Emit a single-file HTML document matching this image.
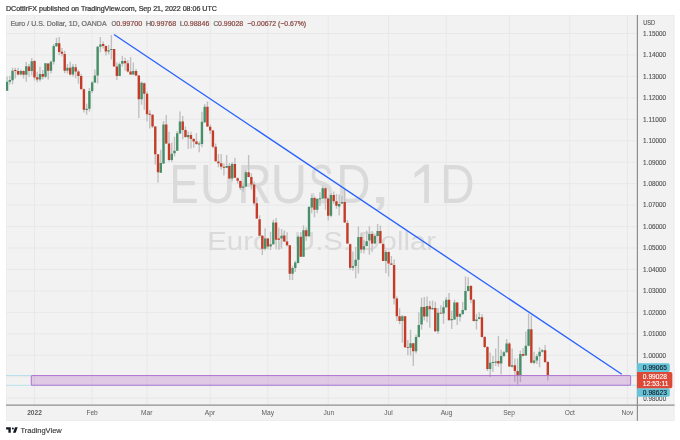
<!DOCTYPE html><html><head><meta charset="utf-8"><style>
html,body{margin:0;padding:0;background:#fff;width:680px;height:440px;overflow:hidden}
svg{display:block;will-change:transform}text{font-family:"Liberation Sans",sans-serif}
</style></head><body>
<svg width="680" height="440" viewBox="0 0 680 440">
<rect width="680" height="440" fill="#fff"/>
<text transform="translate(5.97 10.6) scale(1.0588 1)" font-size="6.7" font-weight="normal" fill="#3a3a3a" stroke="#3a3a3a" stroke-width="0.25">DCottlrFX published on TradingView.com, Sep 21, 2022 08:06 UTC</text>
<rect x="6" y="15" width="668.5" height="405.8" fill="#f2f2f2"/>
<rect x="6.4" y="15.4" width="667.7" height="405" fill="none" stroke="#ebebeb" stroke-width="0.8"/>
<defs><clipPath id="pane"><rect x="6" y="15" width="631.4" height="390"/></clipPath></defs>
<path d="M6 33.50H637M6 54.95H637M6 76.40H637M6 97.85H637M6 119.30H637M6 140.75H637M6 162.20H637M6 183.65H637M6 205.10H637M6 226.55H637M6 248.00H637M6 269.45H637M6 290.90H637M6 312.35H637M6 333.80H637M6 355.25H637M6 376.70H637M6 398.15H637M34.5 15V405M92.1 15V405M147.0 15V405M210.2 15V405M267.8 15V405M328.2 15V405M388.6 15V405M446.2 15V405M509.4 15V405M569.8 15V405M627.4 15V405" stroke="#e8e8e8" stroke-width="1" fill="none"/>
<g fill="#dadada"><text transform="translate(169.51 203.3) scale(0.797 1)" font-size="55">E</text><text transform="translate(199.70 203.3) scale(0.900 1)" font-size="55">U</text><text transform="translate(237.21 203.3) scale(0.873 1)" font-size="55">R</text><text transform="translate(270.50 203.3) scale(0.925 1)" font-size="55">U</text><text transform="translate(308.64 203.3) scale(0.681 1)" font-size="55">S</text><text transform="translate(336.25 203.3) scale(0.864 1)" font-size="55">D</text><text transform="translate(368.35 203.3) scale(1.550 1)" font-size="55">,</text><text transform="translate(440.11 203.3) scale(0.873 1)" font-size="55">D</text><path d="M428.9 164.4V202.9H424.2V171.2L414.5 177.8V173.0L424.8 164.4Z"/>
<text x="321.7" y="250" font-size="25.8" text-anchor="middle" textLength="229" lengthAdjust="spacingAndGlyphs">Euro / U.S. Dollar</text></g>
<text transform="translate(10.40 25.9) scale(1.0058 1)" font-size="7" font-weight="normal" fill="#6e6e6e" stroke="#6e6e6e" stroke-width="0.22">Euro / U.S. Dollar, 1D, OANDA</text>
<text transform="translate(111.58 25.9) scale(0.8800 1)" font-size="7" font-weight="normal" fill="#6e6e6e" stroke="#6e6e6e" stroke-width="0.22">O</text>
<text transform="translate(116.24 25.9) scale(1.0343 1)" font-size="7" font-weight="normal" fill="#8a4a45" stroke="#8a4a45" stroke-width="0.22">0.99700</text>
<text transform="translate(145.65 25.9) scale(1.1000 1)" font-size="7" font-weight="normal" fill="#6e6e6e" stroke="#6e6e6e" stroke-width="0.22">H</text>
<text transform="translate(150.65 25.9) scale(1.0061 1)" font-size="7" font-weight="normal" fill="#8a4a45" stroke="#8a4a45" stroke-width="0.22">0.99768</text>
<text transform="translate(179.65 25.9) scale(1.1077 1)" font-size="7" font-weight="normal" fill="#6e6e6e" stroke="#6e6e6e" stroke-width="0.22">L</text>
<text transform="translate(183.95 25.9) scale(1.0020 1)" font-size="7" font-weight="normal" fill="#8a4a45" stroke="#8a4a45" stroke-width="0.22">0.98846</text>
<text transform="translate(213.57 25.9) scale(0.9333 1)" font-size="7" font-weight="normal" fill="#6e6e6e" stroke="#6e6e6e" stroke-width="0.22">C</text>
<text transform="translate(218.05 25.9) scale(0.9939 1)" font-size="7" font-weight="normal" fill="#8a4a45" stroke="#8a4a45" stroke-width="0.22">0.99028</text>
<text transform="translate(247.35 25.9) scale(0.9809 1)" font-size="7" font-weight="normal" fill="#8a4a45" stroke="#8a4a45" stroke-width="0.22">−0.00672</text>
<text transform="translate(278.01 25.9) scale(0.9838 1)" font-size="7" font-weight="normal" fill="#8a4a45" stroke="#8a4a45" stroke-width="0.22">(−0.67%)</text>
<path d="M6 375.5H637M6 385.3H637" stroke="#b0dfea" stroke-width="0.9" fill="none"/>
<g clip-path="url(#pane)">
<path d="M7.05 76.4V90.7M9.79 76.0V84.6M12.54 67.8V84.2M15.29 67.8V78.5M18.03 67.7V75.6M20.77 69.5V75.2M23.52 70.3V78.5M26.27 62.1V81.7M29.01 64.1V76.8M31.75 58.0V75.6M34.50 60.0V80.5M37.24 71.8V82.3M39.99 66.8V81.4M42.73 70.0V79.5M45.48 63.0V78.2M48.23 63.2V79.5M50.97 60.5V73.6M53.72 43.9V64.5M56.46 37.8V47.0M59.20 37.1V55.2M61.95 48.0V56.5M64.69 50.7V73.2M67.44 64.1V73.6M70.19 61.8V75.5M72.93 64.1V76.4M75.68 64.0V78.2M78.42 70.0V83.8M81.16 74.0V89.3M83.91 88.4V112.5M86.66 103.8V114.8M89.40 88.0V111.4M92.15 81.1V92.9M94.89 69.5V83.0M97.64 46.0V83.4M100.38 36.9V52.3M103.12 41.4V48.6M105.87 45.5V55.5M108.62 45.0V54.5M111.36 34.9V59.6M114.11 48.9V66.5M116.85 62.4V80.0M119.59 62.4V76.0M122.34 56.0V66.5M125.09 57.8V70.5M127.83 60.0V72.4M130.57 56.9V75.1M133.32 62.4V75.0M136.06 69.0V76.0M138.81 75.0V117.9M141.56 81.5V104.7M144.30 82.5V109.7M147.05 91.4V121.5M149.79 110.2V128.4M152.54 114.0V128.0M155.28 126.0V164.5M158.03 154.0V182.4M160.77 149.7V172.7M163.52 120.9V164.0M166.26 115.0V144.0M169.00 131.8V161.5M171.75 142.6V162.0M174.50 136.8V156.4M177.24 130.9V151.0M179.99 111.4V134.0M182.73 115.9V139.2M185.47 126.4V138.0M188.22 131.4V149.0M190.97 131.8V148.6M193.71 138.0V147.7M196.46 133.2V145.0M199.20 141.4V152.3M201.94 111.8V147.3M204.69 104.1V123.0M207.44 101.4V127.0M210.18 124.5V134.0M212.93 130.0V148.2M215.67 143.6V161.5M218.42 154.1V167.3M221.16 154.1V169.5M223.91 163.6V175.5M226.65 155.0V168.0M229.40 163.0V179.0M232.14 162.0V181.4M234.89 157.7V178.0M237.63 177.3V183.8M240.38 180.5V190.0M243.12 183.0V191.8M245.87 169.5V187.0M248.61 155.0V177.3M251.36 173.2V189.5M254.10 181.4V205.5M256.85 197.3V219.0M259.59 215.2V236.0M262.34 235.0V255.0M265.08 228.3V250.5M267.83 238.0V249.3M270.57 231.7V249.9M273.31 219.8V245.0M276.06 218.0V249.3M278.81 227.7V249.3M281.55 228.9V248.8M284.30 230.6V242.0M287.04 232.3V246.5M289.78 245.0V280.0M292.53 265.8V280.0M295.28 260.7V272.0M298.02 235.0V263.5M300.76 232.0V257.0M303.51 225.2V257.0M306.25 227.5V240.8M309.00 206.0V237.0M311.75 195.0V213.3M314.49 197.0V217.2M317.24 198.0V213.3M319.98 192.2V205.9M322.73 186.0V199.0M325.47 187.0V209.8M328.22 198.0V220.6M330.96 193.0V217.2M333.70 191.6V204.1M336.45 193.9V208.7M339.19 194.5V215.5M341.94 196.0V204.0M344.69 188.8V222.9M347.43 220.0V244.0M350.18 243.5V270.0M352.92 251.6V270.7M355.67 246.8V278.2M358.41 226.5V273.5M361.16 232.7V253.2M363.90 240.0V253.6M366.65 230.7V246.5M369.39 226.2V254.8M372.13 231.1V251.7M374.88 235.0V244.0M377.62 224.0V236.5M380.37 225.5V243.5M383.12 243.0V261.0M385.86 250.0V273.2M388.61 251.0V276.6M391.35 256.1V265.0M394.10 259.5V304.6M396.84 296.4V321.0M399.59 308.3V324.2M402.33 315.0V342.7M405.07 316.0V348.0M407.82 339.9V355.2M410.56 329.7V355.5M413.31 343.0V366.0M416.06 334.8V353.5M418.80 312.3V337.5M421.55 297.7V329.7M424.29 297.0V320.5M427.04 296.4V322.3M429.78 301.1V327.7M432.53 300.5V310.0M435.27 301.8V332.0M438.02 308.0V333.9M440.76 305.2V314.0M443.50 301.1V323.7M446.25 297.0V308.0M449.00 293.0V320.5M451.74 310.7V329.1M454.49 299.8V320.0M457.23 302.0V325.0M459.98 313.0V321.6M462.72 301.8V315.0M465.47 276.6V311.0M468.21 277.3V291.5M470.96 285.0V303.2M473.70 299.0V321.5M476.44 314.0V329.5M479.19 312.2V319.5M481.94 314.0V337.5M484.68 336.0V348.0M487.43 346.0V370.9M490.17 352.5V377.0M492.92 356.0V372.0M495.66 348.4V366.0M498.41 336.1V366.8M501.15 349.8V374.3M503.90 351.0V357.0M506.64 338.9V353.0M509.38 342.0V367.0M512.13 348.4V367.5M514.88 358.6V381.8M517.62 358.6V384.6M520.37 350.4V382.0M523.11 348.0V356.5M525.86 331.5V356.0M528.60 313.6V346.5M531.35 315.5V363.5M534.09 351.8V364.3M536.84 354.0V364.0M539.58 347.3V367.3M542.33 349.0V352.5M545.07 345.1V363.0M547.82 361.0V380.6" stroke="#c0c0c0" stroke-width="1.4" fill="none"/>
<path d="M5.85 81.7h2.4v9.0h-2.4zM8.59 80.0h2.4v1.7h-2.4zM11.34 70.7h2.4v9.6h-2.4zM19.57 71.1h2.4v3.3h-2.4zM25.07 66.2h2.4v8.6h-2.4zM30.55 61.3h2.4v9.8h-2.4zM38.79 74.1h2.4v5.4h-2.4zM44.28 63.2h2.4v13.6h-2.4zM49.77 61.8h2.4v8.9h-2.4zM52.52 46.0h2.4v15.8h-2.4zM55.26 42.9h2.4v3.4h-2.4zM66.24 67.7h2.4v3.0h-2.4zM71.73 66.8h2.4v7.7h-2.4zM85.45 108.8h2.4v1.2h-2.4zM88.20 91.1h2.4v17.7h-2.4zM90.95 82.5h2.4v8.6h-2.4zM93.69 75.5h2.4v7.0h-2.4zM96.44 46.8h2.4v28.7h-2.4zM99.18 44.4h2.4v2.4h-2.4zM107.42 50.2h2.4v1.4h-2.4zM110.16 48.9h2.4v1.0h-2.4zM118.39 64.2h2.4v11.8h-2.4zM121.14 61.0h2.4v2.7h-2.4zM132.12 71.0h2.4v3.6h-2.4zM140.36 82.7h2.4v16.6h-2.4zM159.57 163.0h2.4v9.7h-2.4zM162.32 124.4h2.4v39.1h-2.4zM170.55 153.8h2.4v6.2h-2.4zM173.30 150.7h2.4v2.6h-2.4zM176.04 133.2h2.4v17.5h-2.4zM178.79 121.4h2.4v12.2h-2.4zM187.02 135.0h2.4v2.3h-2.4zM198.00 143.6h2.4v0.9h-2.4zM200.75 121.8h2.4v22.3h-2.4zM203.49 106.8h2.4v15.5h-2.4zM225.45 165.9h2.4v1.8h-2.4zM230.94 164.1h2.4v14.5h-2.4zM241.92 186.4h2.4v1.3h-2.4zM244.67 172.3h2.4v14.1h-2.4zM263.88 238.5h2.4v10.3h-2.4zM269.37 244.2h2.4v2.3h-2.4zM272.12 222.6h2.4v21.6h-2.4zM280.35 235.7h2.4v2.8h-2.4zM291.33 268.1h2.4v5.7h-2.4zM294.08 262.4h2.4v5.7h-2.4zM296.82 236.8h2.4v26.2h-2.4zM302.31 230.3h2.4v26.4h-2.4zM307.80 207.0h2.4v29.3h-2.4zM310.55 197.9h2.4v9.7h-2.4zM316.04 199.0h2.4v10.8h-2.4zM318.78 198.3h2.4v1.0h-2.4zM321.53 188.2h2.4v10.3h-2.4zM329.76 195.0h2.4v20.8h-2.4zM338.00 204.1h2.4v2.3h-2.4zM340.74 202.1h2.4v1.5h-2.4zM351.72 266.0h2.4v1.8h-2.4zM354.47 259.8h2.4v6.2h-2.4zM357.21 237.0h2.4v22.8h-2.4zM362.70 246.2h2.4v3.2h-2.4zM365.45 241.2h2.4v4.8h-2.4zM368.19 234.0h2.4v6.5h-2.4zM373.68 236.0h2.4v7.5h-2.4zM376.43 231.0h2.4v5.0h-2.4zM384.66 252.0h2.4v8.9h-2.4zM401.13 316.2h2.4v4.8h-2.4zM409.37 343.3h2.4v4.5h-2.4zM414.86 337.0h2.4v14.2h-2.4zM417.60 325.0h2.4v12.0h-2.4zM420.35 307.0h2.4v17.5h-2.4zM425.84 306.0h2.4v10.5h-2.4zM431.33 308.0h2.4v1.3h-2.4zM436.82 312.7h2.4v18.5h-2.4zM442.31 307.3h2.4v6.1h-2.4zM445.05 299.8h2.4v7.5h-2.4zM450.54 318.9h2.4v1.3h-2.4zM453.29 302.5h2.4v17.1h-2.4zM458.78 314.1h2.4v2.7h-2.4zM461.52 310.0h2.4v4.1h-2.4zM464.27 290.9h2.4v19.1h-2.4zM467.01 286.1h2.4v4.8h-2.4zM475.25 319.4h2.4v1.6h-2.4zM477.99 317.3h2.4v1.7h-2.4zM488.97 362.7h2.4v6.2h-2.4zM491.72 362.1h2.4v0.9h-2.4zM494.46 361.4h2.4v1.3h-2.4zM499.95 355.9h2.4v7.5h-2.4zM502.70 352.3h2.4v3.6h-2.4zM505.44 343.6h2.4v8.7h-2.4zM510.93 365.3h2.4v1.5h-2.4zM519.16 354.0h2.4v22.0h-2.4zM524.65 345.8h2.4v9.7h-2.4zM527.40 329.3h2.4v16.5h-2.4zM532.89 360.6h2.4v2.2h-2.4zM535.63 356.2h2.4v4.4h-2.4zM538.38 351.8h2.4v4.4h-2.4zM541.12 350.3h2.4v1.5h-2.4z" fill="#468f68"/>
<path d="M14.09 70.1h2.4v1.0h-2.4zM16.83 71.1h2.4v3.3h-2.4zM22.32 71.1h2.4v3.7h-2.4zM27.81 66.6h2.4v4.5h-2.4zM33.30 60.9h2.4v16.7h-2.4zM36.04 77.3h2.4v2.2h-2.4zM41.53 74.1h2.4v2.7h-2.4zM47.02 63.5h2.4v7.2h-2.4zM58.00 43.2h2.4v8.9h-2.4zM60.75 51.8h2.4v1.9h-2.4zM63.49 54.1h2.4v16.6h-2.4zM68.98 67.7h2.4v6.8h-2.4zM74.48 67.3h2.4v4.1h-2.4zM77.22 71.4h2.4v4.7h-2.4zM79.96 76.1h2.4v13.2h-2.4zM82.71 89.3h2.4v20.4h-2.4zM101.92 44.1h2.4v2.0h-2.4zM104.67 46.1h2.4v5.5h-2.4zM112.91 49.0h2.4v17.5h-2.4zM115.65 66.5h2.4v9.5h-2.4zM123.89 61.0h2.4v2.3h-2.4zM126.63 63.3h2.4v8.2h-2.4zM129.38 71.5h2.4v3.1h-2.4zM134.87 70.9h2.4v4.6h-2.4zM137.61 75.5h2.4v23.8h-2.4zM143.10 83.2h2.4v10.6h-2.4zM145.85 93.8h2.4v20.5h-2.4zM148.59 113.8h2.4v0.9h-2.4zM151.34 114.7h2.4v11.9h-2.4zM154.08 126.6h2.4v27.7h-2.4zM156.83 154.3h2.4v17.9h-2.4zM165.06 124.5h2.4v19.1h-2.4zM167.81 143.6h2.4v16.4h-2.4zM181.53 121.4h2.4v8.6h-2.4zM184.28 130.0h2.4v7.0h-2.4zM189.77 135.0h2.4v4.1h-2.4zM192.51 139.1h2.4v2.3h-2.4zM195.26 141.4h2.4v2.7h-2.4zM206.24 106.8h2.4v19.8h-2.4zM208.98 126.8h2.4v3.7h-2.4zM211.73 130.5h2.4v16.3h-2.4zM214.47 146.8h2.4v14.4h-2.4zM217.22 161.4h2.4v1.8h-2.4zM219.96 163.2h2.4v3.6h-2.4zM222.71 166.8h2.4v0.9h-2.4zM228.20 165.9h2.4v12.7h-2.4zM233.69 164.1h2.4v13.6h-2.4zM236.43 178.2h2.4v2.5h-2.4zM239.18 180.9h2.4v6.8h-2.4zM247.41 172.3h2.4v4.7h-2.4zM250.16 177.0h2.4v7.5h-2.4zM252.90 184.5h2.4v18.7h-2.4zM255.65 203.2h2.4v15.4h-2.4zM258.39 219.2h2.4v16.5h-2.4zM261.14 235.7h2.4v13.1h-2.4zM266.63 238.5h2.4v8.0h-2.4zM274.86 222.6h2.4v17.1h-2.4zM277.61 238.5h2.4v1.2h-2.4zM283.10 235.5h2.4v6.1h-2.4zM285.84 241.6h2.4v3.7h-2.4zM288.58 245.3h2.4v28.5h-2.4zM299.56 236.8h2.4v19.9h-2.4zM305.06 230.3h2.4v6.0h-2.4zM313.29 197.9h2.4v11.9h-2.4zM324.27 188.2h2.4v10.3h-2.4zM327.02 198.5h2.4v17.3h-2.4zM332.50 195.0h2.4v6.3h-2.4zM335.25 201.3h2.4v4.5h-2.4zM343.49 202.1h2.4v20.3h-2.4zM346.23 222.9h2.4v20.6h-2.4zM348.98 244.2h2.4v23.6h-2.4zM359.96 237.0h2.4v12.4h-2.4zM370.94 234.0h2.4v9.5h-2.4zM379.17 231.0h2.4v12.2h-2.4zM381.92 243.9h2.4v17.0h-2.4zM387.41 252.0h2.4v11.6h-2.4zM390.15 263.6h2.4v1.1h-2.4zM392.90 265.0h2.4v33.5h-2.4zM395.64 298.5h2.4v17.7h-2.4zM398.39 316.2h2.4v4.8h-2.4zM403.88 316.2h2.4v31.1h-2.4zM406.62 347.0h2.4v0.8h-2.4zM412.11 343.3h2.4v7.9h-2.4zM423.09 307.0h2.4v9.5h-2.4zM428.58 306.3h2.4v3.0h-2.4zM434.07 308.0h2.4v23.2h-2.4zM439.56 312.7h2.4v0.8h-2.4zM447.80 299.8h2.4v20.4h-2.4zM456.03 302.5h2.4v14.3h-2.4zM469.76 286.1h2.4v13.7h-2.4zM472.50 299.8h2.4v21.2h-2.4zM480.74 317.3h2.4v19.7h-2.4zM483.48 337.0h2.4v10.0h-2.4zM486.23 347.0h2.4v21.9h-2.4zM497.21 360.9h2.4v2.5h-2.4zM508.19 343.6h2.4v23.0h-2.4zM513.67 365.3h2.4v5.7h-2.4zM516.42 371.0h2.4v5.0h-2.4zM521.91 354.0h2.4v1.7h-2.4zM530.14 329.3h2.4v33.5h-2.4zM543.87 350.3h2.4v11.8h-2.4zM546.62 362.1h2.4v14.0h-2.4z" fill="#c43c28"/>
</g>
<rect x="31.3" y="375.5" width="599.3" height="9.8" rx="1" fill="#9c27b0" fill-opacity="0.2" stroke="#b27ad1" stroke-width="1.1"/>
<line x1="114" y1="34.5" x2="621.8" y2="374.3" stroke="#2962ff" stroke-width="1.35"/>
<path d="M637.4 15V420.8M6 405.2H674.5" stroke="#8f8f8f" stroke-width="1.2" fill="none"/>
<text transform="translate(643.16 24.7) scale(0.8880 1)" font-size="6.3" font-weight="normal" fill="#555" stroke="#555" stroke-width="0.12">USD</text>
<text transform="translate(643.09 35.85) scale(1.0136 1)" font-size="6.3" font-weight="normal" fill="#555" stroke="#555" stroke-width="0.12">1.15000</text>
<text transform="translate(643.09 57.3) scale(1.0136 1)" font-size="6.3" font-weight="normal" fill="#555" stroke="#555" stroke-width="0.12">1.14000</text>
<text transform="translate(643.09 78.75) scale(1.0136 1)" font-size="6.3" font-weight="normal" fill="#555" stroke="#555" stroke-width="0.12">1.13000</text>
<text transform="translate(643.09 100.2) scale(1.0136 1)" font-size="6.3" font-weight="normal" fill="#555" stroke="#555" stroke-width="0.12">1.12000</text>
<text transform="translate(643.08 121.65) scale(1.0372 1)" font-size="6.3" font-weight="normal" fill="#555" stroke="#555" stroke-width="0.12">1.11000</text>
<text transform="translate(643.09 143.1) scale(1.0136 1)" font-size="6.3" font-weight="normal" fill="#555" stroke="#555" stroke-width="0.12">1.10000</text>
<text transform="translate(643.09 164.55) scale(1.0136 1)" font-size="6.3" font-weight="normal" fill="#555" stroke="#555" stroke-width="0.12">1.09000</text>
<text transform="translate(643.09 186.0) scale(1.0136 1)" font-size="6.3" font-weight="normal" fill="#555" stroke="#555" stroke-width="0.12">1.08000</text>
<text transform="translate(643.09 207.45) scale(1.0136 1)" font-size="6.3" font-weight="normal" fill="#555" stroke="#555" stroke-width="0.12">1.07000</text>
<text transform="translate(643.09 228.9) scale(1.0136 1)" font-size="6.3" font-weight="normal" fill="#555" stroke="#555" stroke-width="0.12">1.06000</text>
<text transform="translate(643.09 250.35) scale(1.0136 1)" font-size="6.3" font-weight="normal" fill="#555" stroke="#555" stroke-width="0.12">1.05000</text>
<text transform="translate(643.09 271.8) scale(1.0136 1)" font-size="6.3" font-weight="normal" fill="#555" stroke="#555" stroke-width="0.12">1.04000</text>
<text transform="translate(643.09 293.25) scale(1.0136 1)" font-size="6.3" font-weight="normal" fill="#555" stroke="#555" stroke-width="0.12">1.03000</text>
<text transform="translate(643.09 314.7) scale(1.0136 1)" font-size="6.3" font-weight="normal" fill="#555" stroke="#555" stroke-width="0.12">1.02000</text>
<text transform="translate(643.09 336.15) scale(1.0136 1)" font-size="6.3" font-weight="normal" fill="#555" stroke="#555" stroke-width="0.12">1.01000</text>
<text transform="translate(643.09 357.6) scale(1.0136 1)" font-size="6.3" font-weight="normal" fill="#555" stroke="#555" stroke-width="0.12">1.00000</text>
<text transform="translate(643.35 379.05) scale(1.0022 1)" font-size="6.3" font-weight="normal" fill="#555" stroke="#555" stroke-width="0.12">0.99000</text>
<text transform="translate(643.35 400.5) scale(1.0022 1)" font-size="6.3" font-weight="normal" fill="#555" stroke="#555" stroke-width="0.12">0.98000</text>
<path d="M637 363.2H668.0Q669.8 363.2 669.8 365.0V370.2Q669.8 372.0 668.0 372.0H637Z" fill="#66c4d9"/>
<path d="M637 388.3H668.0Q669.8 388.3 669.8 390.1V395.0Q669.8 396.8 668.0 396.8H637Z" fill="#66c4d9"/>
<path d="M637 372.0H670.5Q672.3 372.0 672.3 373.8V386.5Q672.3 388.3 670.5 388.3H637Z" fill="#dc4a37"/>
<text transform="translate(642.84 370.2) scale(1.0562 1)" font-size="6.3" font-weight="normal" fill="#131722" stroke="#131722" stroke-width="0.12">0.99065</text>
<text transform="translate(642.84 378.9) scale(1.0562 1)" font-size="6.3" font-weight="normal" fill="#ffffff" stroke="#ffffff" stroke-width="0.12">0.99028</text>
<text transform="translate(642.87 386.3) scale(1.0624 1)" font-size="6.3" font-weight="normal" fill="#ffffff" stroke="#ffffff" stroke-width="0.12">12:53:11</text>
<text transform="translate(642.84 394.6) scale(1.0562 1)" font-size="6.3" font-weight="normal" fill="#131722" stroke="#131722" stroke-width="0.12">0.98623</text>
<text x="34.5" y="414.6" font-size="6.6" fill="#5c5c5c" text-anchor="middle" font-weight="bold">2022</text>
<text x="92.1" y="414.6" font-size="6.6" fill="#5c5c5c" text-anchor="middle">Feb</text>
<text x="146.7" y="414.6" font-size="6.6" fill="#5c5c5c" text-anchor="middle">Mar</text>
<text x="210" y="414.6" font-size="6.6" fill="#5c5c5c" text-anchor="middle">Apr</text>
<text x="267.8" y="414.6" font-size="6.6" fill="#5c5c5c" text-anchor="middle">May</text>
<text x="328.8" y="414.6" font-size="6.6" fill="#5c5c5c" text-anchor="middle">Jun</text>
<text x="388.5" y="414.6" font-size="6.6" fill="#5c5c5c" text-anchor="middle">Jul</text>
<text x="446.5" y="414.6" font-size="6.6" fill="#5c5c5c" text-anchor="middle">Aug</text>
<text x="509" y="414.6" font-size="6.6" fill="#5c5c5c" text-anchor="middle">Sep</text>
<text x="569.8" y="414.6" font-size="6.6" fill="#5c5c5c" text-anchor="middle">Oct</text>
<text x="627.4" y="414.6" font-size="6.6" fill="#5c5c5c" text-anchor="middle">Nov</text>
<g fill="#131722"><path d="M6.1 427.2H10.8V432.7H8.4V429.4H6.1Z"/><circle cx="12.85" cy="428.55" r="1"/><path d="M15 427.2H17.7L15.7 432.7H13Z"/></g>
<text x="20.4" y="432.9" font-size="7.4" fill="#2e2e2e" stroke="#2e2e2e" stroke-width="0.1" textLength="41.4" lengthAdjust="spacingAndGlyphs">TradingView</text>
</svg></body></html>
